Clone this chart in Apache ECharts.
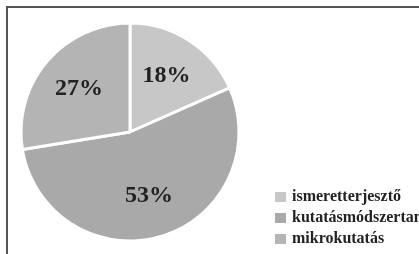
<!DOCTYPE html>
<html>
<head>
<meta charset="utf-8">
<script src="https://cdn.jsdelivr.net/npm/echarts@6/dist/echarts.min.js"></script>
<style>
    html, body { margin: 0; padding: 0; background: #fff; }
    #frame {
        position: absolute; left: 6px; top: 6px; width: 413px; height: 248px;
        border-left: 2px solid #555; border-top: 2px solid #555;
    }
    #chart { position: absolute; left: 0; top: 0; width: 419px; height: 254px; }
</style>
</head>
<body>
<div id="frame"></div>
<div id="chart"></div>
<script>
    // adatok
    const categories = ['ismeretterjesztő', 'kutatásmódszertan', 'mikrokutatás'];
    const values = [18, 53, 27];
    const colors = ['#c7c7c7', '#a9a9a9', '#b4b4b4'];

    let dom = document.getElementById('chart');
    let myChart = echarts.init(dom);

    let pieData = categories.map((c, i) => ({
        name: c,
        value: values[i],
        itemStyle: {color: colors[i]}
    }));

    let option = {
        animation: false,
        legend: {
            orient: 'vertical',
            left: 273,
            top: 189,
            height: 80,
            padding: 0,
            icon: 'rect',
            itemWidth: 13,
            itemHeight: 12,
            itemGap: 5,
            data: categories,
            textStyle: {
                fontFamily: 'Liberation Serif',
                fontWeight: 'bold',
                fontSize: 16,
                lineHeight: 16,
                color: '#222'
            }
        },
        series: [
            {
                type: 'pie',
                center: [130, 132],
                radius: 109,
                startAngle: 90,
                clockwise: true,
                silent: true,
                itemStyle: {borderColor: '#fff', borderWidth: 3},
                label: {show: false},
                labelLine: {show: false},
                data: pieData
            },
            {
                // átlátszó kör csak a feliratok helyéhez
                type: 'pie',
                center: [130, 132],
                radius: 128,
                startAngle: 90,
                clockwise: true,
                silent: true,
                legendHoverLink: false,
                itemStyle: {color: 'rgba(0,0,0,0)', borderWidth: 0},
                label: {
                    show: true,
                    position: 'inside',
                    formatter: '{c}%',
                    fontFamily: 'Liberation Serif',
                    fontWeight: 'bold',
                    fontSize: 24,
                    color: '#222'
                },
                labelLine: {show: false},
                data: categories.map((c, i) => ({name: c + ' ', value: values[i]}))
            }
        ]
    };
    myChart.setOption(option, true);
</script>
</body>
</html>
